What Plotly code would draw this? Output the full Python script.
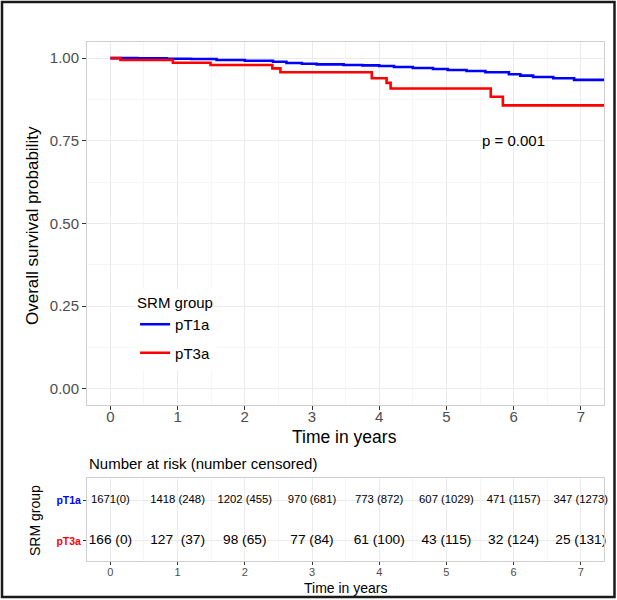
import plotly.graph_objects as go

# ---- data ----
blue_times = [0, 0.4, 0.84, 1.2, 1.58, 2.0, 2.42, 2.62, 2.85, 3.07, 3.47, 3.75, 4.0, 4.22, 4.5, 4.8, 5.02, 5.3, 5.58, 5.93, 6.1, 6.29, 6.59, 6.9, 7.4]
blue_surv = [1.0, 0.999, 0.998, 0.997, 0.994, 0.992, 0.989, 0.985, 0.983, 0.981, 0.979, 0.978, 0.976, 0.973, 0.970, 0.967, 0.964, 0.961, 0.957, 0.951, 0.947, 0.943, 0.939, 0.934, 0.934]

red_times = [0, 0.15, 0.93, 1.49, 2.41, 2.53, 3.89, 4.11, 4.17, 5.66, 5.84, 7.4]
red_surv = [1.0, 0.994, 0.986, 0.979, 0.969, 0.957, 0.939, 0.925, 0.908, 0.883, 0.857, 0.857]

years = [0, 1, 2, 3, 4, 5, 6, 7]
pt1a_risk = ["1671(0)", "1418 (248)", "1202 (455)", "970 (681)", "773 (872)",
             "607 (1029)", "471 (1157)", "347 (1273)"]
pt3a_risk = ["166 (0)", "127\u00a0 (37)", "98 (65)", "77 (84)", "61 (100)",
             "43 (115)", "32 (124)", "25 (131)"]

y_ticks = [0, 0.25, 0.5, 0.75, 1.0]
y_ticklabels = ["0.00", "0.25", "0.50", "0.75", "1.00"]
groups = ["pT1a", "pT3a"]
colors = {"pT1a": "#0000FF", "pT3a": "#FF0000"}

FONT = "Liberation Sans, Arial, Helvetica, sans-serif"

fig = go.Figure()
fig.add_trace(go.Scatter(x=blue_times, y=blue_surv, mode="lines", name="pT1a",
                         legendgroup="g1",
                         line=dict(color=colors["pT1a"], width=2.6, shape="hv"),
                         xaxis="x", yaxis="y"))
fig.add_trace(go.Scatter(x=red_times, y=red_surv, mode="lines", name="pT3a",
                         legendgroup="g2",
                         line=dict(color=colors["pT3a"], width=2.6, shape="hv"),
                         xaxis="x", yaxis="y"))

# risk table (pT1a row = 2, pT3a row = 1)
fig.add_trace(go.Scatter(x=years, y=[2] * len(years), mode="text", text=pt1a_risk,
                         textfont=dict(size=11.3, color="black", family=FONT),
                         cliponaxis=False,
                         xaxis="x2", yaxis="y2", showlegend=False, hoverinfo="skip"))
fig.add_trace(go.Scatter(x=years, y=[1] * len(years), mode="text", text=pt3a_risk,
                         textfont=dict(size=13.7, color="black", family=FONT),
                         cliponaxis=False,
                         xaxis="x2", yaxis="y2", showlegend=False, hoverinfo="skip"))

XR = [-0.348, 7.345]
grid = "#EBEBEB"
minor_grid = "#F6F6F6"
border = "#CFCFCF"

fig.update_layout(
    width=617, height=600,
    margin=dict(l=87, r=13, t=42, b=39, autoexpand=False),
    paper_bgcolor="white", plot_bgcolor="white",
    font=dict(family=FONT),
    xaxis=dict(domain=[0, 1], anchor="y", range=XR, tickvals=years,
               ticks="outside", ticklen=4, tickcolor="#333333",
               tickfont=dict(size=15, color="#4D4D4D"), ticklabelstandoff=-6,
               showgrid=True, gridcolor=grid, gridwidth=1,
               minor=dict(dtick=0.5, tick0=0, showgrid=True, gridcolor=minor_grid),
               showline=True, mirror=True, linecolor=border, linewidth=1, zeroline=False),
    yaxis=dict(domain=[0.3006, 1], anchor="x", range=[-0.0486, 1.0486],
               tickvals=y_ticks, ticktext=y_ticklabels,
               ticks="outside", ticklen=4, tickcolor="#333333",
               tickfont=dict(size=15, color="#4D4D4D"),
               showgrid=True, gridcolor=grid, gridwidth=1,
               minor=dict(dtick=0.125, tick0=0, showgrid=True, gridcolor=minor_grid),
               showline=True, mirror=True, linecolor=border, linewidth=1, zeroline=False),
    xaxis2=dict(domain=[0, 1], anchor="y2", range=XR, tickvals=years,
                ticks="outside", ticklen=3, tickcolor="#333333",
                tickfont=dict(size=11, color="#4D4D4D"), ticklabelstandoff=-2,
                showgrid=True, gridcolor=grid, gridwidth=1,
                minor=dict(dtick=0.5, tick0=0, showgrid=True, gridcolor=minor_grid),
                showline=True, mirror=True, linecolor=border, linewidth=1, zeroline=False),
    yaxis2=dict(domain=[0, 0.1599], anchor="x2", range=[0.5, 2.56],
                tickvals=[2, 1],
                ticktext=['<b><span style="color:#0000FF">' + groups[0] + '</span></b>',
                          '<b><span style="color:#FF0000">' + groups[1] + '</span></b>'],
                ticks="outside", ticklen=3, tickcolor="#333333",
                tickfont=dict(size=10.5),
                showgrid=True, gridcolor=grid, gridwidth=1,
                showline=True, mirror=True, linecolor=border, linewidth=1, zeroline=False),
    legend=dict(x=0.093, y=0.525, xanchor="left", yanchor="top",
                bgcolor="white", font=dict(size=15, color="black"),
                tracegroupgap=6,
                title=dict(text="SRM group", font=dict(size=15, color="black"))),
    showlegend=True,
)

annotations = [
    dict(text="p = 0.001", x=6, y=0.75, xref="x", yref="y", showarrow=False,
         xanchor="center", yanchor="middle", font=dict(size=15, color="black")),
    dict(text="Overall survival probability", x=-0.1044, y=0.6455, xref="paper", yref="paper",
         xanchor="center", yanchor="middle",
         textangle=-90, showarrow=False, font=dict(size=17, color="black")),
    dict(text="Time in years", x=0.499, y=0.2390, xref="paper", yref="paper",
         xanchor="center", yanchor="middle",
         showarrow=False, font=dict(size=17.5, color="black")),
    dict(text="Number at risk (number censored)", x=0, y=0.1888, xref="paper", yref="paper",
         xanchor="left", yanchor="middle", showarrow=False, font=dict(size=15, color="black")),
    dict(text="SRM group", x=-0.1006, y=0.079, xref="paper", yref="paper",
         xanchor="center", yanchor="middle",
         textangle=-90, showarrow=False, font=dict(size=14, color="black")),
    dict(text="Time in years", x=0.501, y=-0.0520, xref="paper", yref="paper",
         xanchor="center", yanchor="middle",
         showarrow=False, font=dict(size=14, color="black")),
]
fig.update_layout(annotations=annotations)

fig.add_shape(type="rect", xref="paper", yref="paper",
              x0=-0.1644, x1=1.0203, y0=-0.0694, y1=1.077,
              line=dict(color="#1a1a1a", width=2.5), fillcolor="rgba(0,0,0,0)")

fig.write_html("out.html", config={"displayModeBar": False},
               post_script="document.body.style.margin='0px';document.body.style.overflow='hidden';")
